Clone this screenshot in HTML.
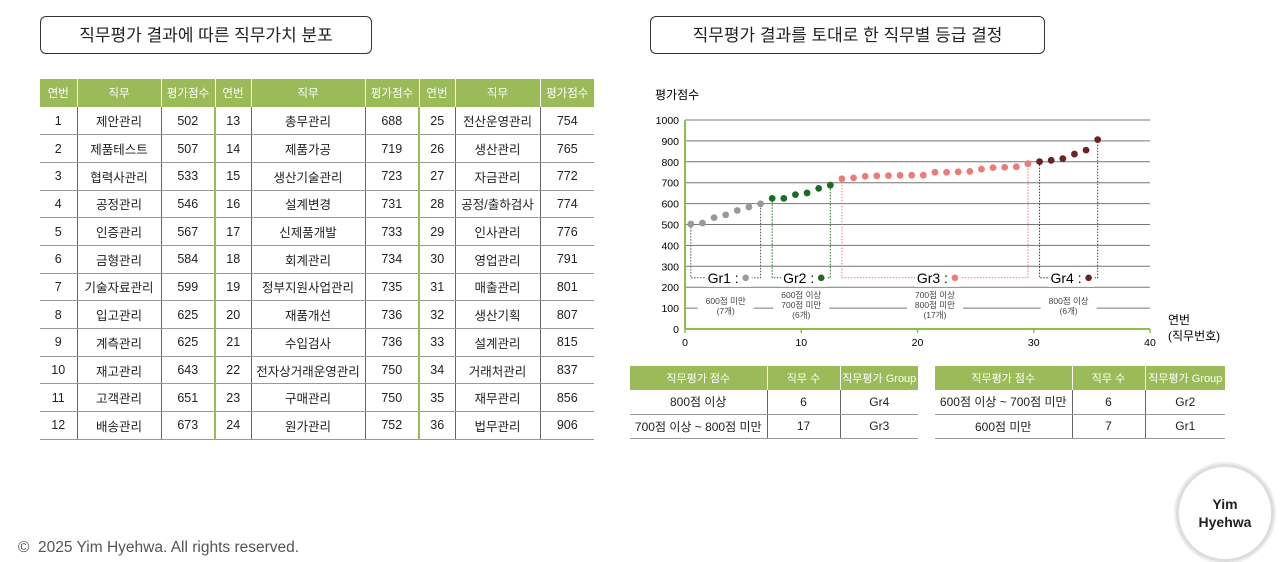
<!DOCTYPE html>
<html><head><meta charset="utf-8"><style>
body{margin:0;width:1280px;height:561px;background:#fff;position:relative;overflow:hidden;font-family:"Liberation Sans","Noto Sans CJK KR",sans-serif;color:#222}
.title{position:absolute;border:1px solid #333;border-radius:6px;height:38px;line-height:38px;text-align:center;font-size:17px;box-sizing:border-box}
table{position:absolute;border-collapse:collapse;font-size:12px;table-layout:fixed}
#jt{font-size:12.5px}
th{background:#9bbb59;color:#fff;font-weight:normal;font-size:11.5px;border-left:1px solid #fff;white-space:nowrap;padding:0}
td{text-align:center;border-bottom:1px solid #999;border-left:1px solid #666;padding:0;white-space:nowrap}
td:first-child,th:first-child{border-left:none}
.sep{border-left:2px solid #9bbb59}
.gt th{font-size:11px}
</style></head><body>
<div class="title" style="left:40px;top:16px;width:332px">직무평가 결과에 따른 직무가치 분포</div>
<div class="title" style="left:650px;top:16px;width:395px">직무평가 결과를 토대로 한 직무별 등급 결정</div>
<table id="jt" style="left:40px;top:79px;width:554px">
<colgroup><col style="width:37px"><col style="width:84px"><col style="width:54px"><col style="width:36px"><col style="width:114px"><col style="width:54px"><col style="width:36px"><col style="width:85px"><col style="width:54px"></colgroup>
<tr style="height:28px"><th>연번</th><th>직무</th><th>평가점수</th><th>연번</th><th>직무</th><th>평가점수</th><th>연번</th><th>직무</th><th>평가점수</th></tr>
</table>
<table class="gt" style="left:630px;top:366px;width:288px">
<colgroup><col style="width:137px"><col style="width:73px"><col style="width:78px"></colgroup>
<tr style="height:24px"><th>직무평가 점수</th><th>직무 수</th><th>직무평가 Group</th></tr>
<tr style="height:24px"><td>800점 이상</td><td>6</td><td>Gr4</td></tr>
<tr style="height:24px"><td>700점 이상 ~ 800점 미만</td><td>17</td><td>Gr3</td></tr></table>
<table class="gt" style="left:935px;top:366px;width:290px">
<colgroup><col style="width:137px"><col style="width:73px"><col style="width:80px"></colgroup>
<tr style="height:24px"><th>직무평가 점수</th><th>직무 수</th><th>직무평가 Group</th></tr>
<tr style="height:24px"><td>600점 이상 ~ 700점 미만</td><td>6</td><td>Gr2</td></tr>
<tr style="height:24px"><td>600점 미만</td><td>7</td><td>Gr1</td></tr></table>
<svg id="ch" width="1280" height="561" style="position:absolute;left:0;top:0" font-family="Liberation Sans, Noto Sans CJK KR, sans-serif"></svg>
<div style="position:absolute;left:18px;top:539px;font-size:15.5px;color:#555">©&nbsp; 2025 Yim Hyehwa. All rights reserved.</div>
<div style="position:absolute;left:1176px;top:464px;width:92px;height:92px;border-radius:50%;border:3px solid #ddd;box-shadow:0 0 0 2px #eee;background:#fff;display:flex;align-items:center;justify-content:center;text-align:center;font-weight:bold;font-size:14px;line-height:18px">Yim<br>Hyehwa</div>
<script>
const jobs=["제안관리","제품테스트","협력사관리","공정관리","인증관리","금형관리","기술자료관리","입고관리","계측관리","재고관리","고객관리","배송관리","총무관리","제품가공","생산기술관리","설계변경","신제품개발","회계관리","정부지원사업관리","재품개선","수입검사","전자상거래운영관리","구매관리","원가관리","전산운영관리","생산관리","자금관리","공정/출하검사","인사관리","영업관리","매출관리","생산기획","설계관리","거래처관리","재무관리","법무관리"];
const scores=[502,507,533,546,567,584,599,625,625,643,651,673,688,719,723,731,733,734,735,736,736,750,750,752,754,765,772,774,776,791,801,807,815,837,856,906];
const groupEnds=[7,13,30,36];
const groupNames=["Gr1","Gr2","Gr3","Gr4"];
const groupColors=["#999999","#1e6b26","#f07a78","#6b2424"];
const groupNotes=[["600점 미만","(7개)"],["600점 이상","700점 미만","(6개)"],["700점 이상","800점 미만","(17개)"],["800점 이상","(6개)"]];
const yTicks=[0,100,200,300,400,500,600,700,800,900,1000];
const xTicks=[0,10,20,30,40];
const jt=document.getElementById('jt');
for(let r=0;r<12;r++){const tr=document.createElement('tr');tr.style.height='27.7px';


for(let c=0;c<3;c++){const i=c*12+r;[i+1,jobs[i],scores[i]].forEach((v,k)=>{const td=document.createElement('td');td.textContent=v;if(k==0&&c>0)td.className='sep';tr.appendChild(td);});}
jt.appendChild(tr);}
const svg=document.getElementById('ch'),NS='http://www.w3.org/2000/svg';
const X=v=>685+v*11.625, Y=v=>329-v*0.209;
function el(t,a,txt){const e=document.createElementNS(NS,t);for(const k in a)e.setAttribute(k,a[k]);if(txt!=null)e.textContent=txt;svg.appendChild(e);return e;}
let e;
e=el('text',{x:655,y:99,'font-size':12},'평가점수');


yTicks.forEach(t=>{if(t>0){e=el('line',{x1:X(0),x2:X(40),y1:Y(t),y2:Y(t),stroke:'#777','stroke-width':1});

}
e=el('text',{x:679,y:Y(t)+4,'font-size':10.5,'text-anchor':'end'},t);

});
el('line',{x1:X(0),x2:X(0),y1:Y(1000),y2:Y(0),stroke:'#8cc04a','stroke-width':2});
el('line',{x1:X(0),x2:X(40),y1:Y(0),y2:Y(0),stroke:'#8cc04a','stroke-width':2});
xTicks.forEach(t=>{el('line',{x1:X(t),x2:X(t),y1:Y(0),y2:Y(0)+4,stroke:'#8cc04a','stroke-width':1.5});
e=el('text',{x:X(t),y:346,'font-size':10.5,'text-anchor':'middle'},t);

});
e=el('text',{x:1168,y:324,'font-size':12},'연번');


el('text',{x:1168,y:340,'font-size':12},'(직무번호)');
let start=0;
groupEnds.forEach((end,g)=>{const c=groupColors[g];const x1=X(start+0.5),x2=X(end-0.5),yb=Y(245);
el('polyline',{points:`${x1},${Y(scores[start])} ${x1},${yb} ${x2},${yb} ${x2},${Y(scores[end-1])}`,fill:'none',stroke:g==0?'#555':c,'stroke-width':1,'stroke-dasharray':'1.5,1.5'});
const cx=(x1+x2)/2;
el('rect',{x:cx-20,y:yb-9,width:46,height:18,fill:'#fff'});
e=el('text',{x:cx+13,y:yb+5,'font-size':14,'text-anchor':'end'},groupNames[g]+' :');


el('circle',{cx:cx+20,cy:yb,r:3.3,fill:c});
const n=groupNotes[g];el('rect',{x:cx-28,y:289,width:56,height:34,fill:'#fff'});
n.forEach((s,k)=>{el('text',{x:cx,y:(n.length==2?304:298)+k*10,'font-size':8.5,'text-anchor':'middle',fill:'#444'},s);});
start=end;});
var g=0;
scores.forEach((s,i)=>{if(i>=groupEnds[g])g++;
e=el('circle',{cx:X(i+0.5),cy:Y(s),r:3.4,fill:groupColors[g]});

});
</script>
</body></html>
